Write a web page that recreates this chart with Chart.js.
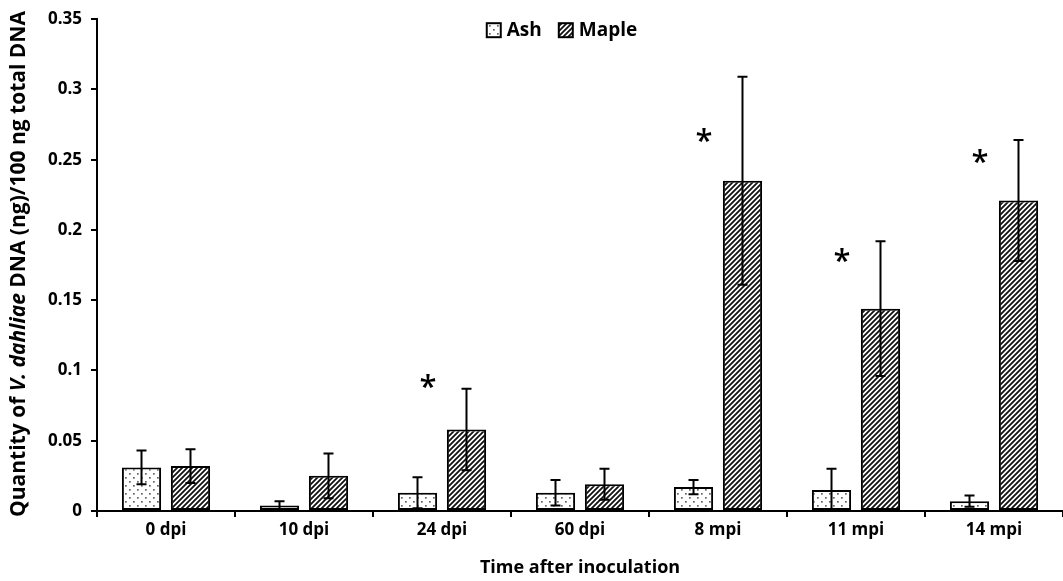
<!DOCTYPE html>
<html>
<head>
<meta charset="utf-8">
<script src="https://cdn.jsdelivr.net/npm/chart.js@4"></script>
<style>
  html, body { margin: 0; padding: 0; background: #fff; }
  #wrap { width: 1063px; height: 581px; }
</style>
</head>
<body>
<div id="wrap"><canvas id="chart"></canvas></div>
<script>
const categories = ['0 dpi', '10 dpi', '24 dpi', '60 dpi', '8 mpi', '11 mpi', '14 mpi']
const ashValues = [0.031, 0.004, 0.013, 0.013, 0.017, 0.015, 0.007]
const ashErrors = [0.012, 0.003, 0.011, 0.009, 0.005, 0.015, 0.004]
const mapleValues = [0.032, 0.025, 0.058, 0.019, 0.235, 0.144, 0.221]
const mapleErrors = [0.012, 0.016, 0.029, 0.011, 0.074, 0.048, 0.043]
// where the significance stars sit (y value), null = no star
const starLevels = [null, null, 0.091, null, 0.266, 0.181, 0.251]
const yTicks = [0, 0.05, 0.1, 0.15, 0.2, 0.25, 0.3, 0.35]

const FONT = '"Open Sans", "DejaVu Sans", sans-serif'

function dotPattern() {
    const c = document.createElement('canvas')
    c.width = 8; c.height = 8
    const g = c.getContext('2d')
    g.fillStyle = '#fff'
    g.fillRect(0, 0, 8, 8)
    g.fillStyle = '#666'
    g.fillRect(1, 1, 1.7, 1.7)
    g.fillRect(5, 5, 1.7, 1.7)
    return g.createPattern(c, 'repeat')
}

function hatchPattern() {
    const s = 5
    const c = document.createElement('canvas')
    c.width = s; c.height = s
    const g = c.getContext('2d')
    g.fillStyle = '#fff'
    g.fillRect(0, 0, s, s)
    g.strokeStyle = '#111'
    g.lineWidth = 1.8
    g.beginPath()
    g.moveTo(-1, s + 1); g.lineTo(s + 1, -1)
    g.moveTo(-1, 1); g.lineTo(1, -1)
    g.moveTo(s - 1, s + 1); g.lineTo(s + 1, s - 1)
    g.stroke()
    return g.createPattern(c, 'repeat')
}

const errorBars = {
    id: 'errorBars',
    afterDatasetsDraw(chart) {
        const ctx = chart.ctx
        const y = chart.scales.y
        const errs = [ashErrors, mapleErrors]
        ctx.save()
        ctx.strokeStyle = '#000'
        ctx.lineWidth = 2
        chart.data.datasets.forEach((ds, di) => {
            chart.getDatasetMeta(di).data.forEach((bar, i) => {
                const v = ds.data[i], e = errs[di][i]
                const top = y.getPixelForValue(v + e)
                const bot = y.getPixelForValue(Math.max(0, v - e))
                ctx.beginPath()
                ctx.moveTo(bar.x, top); ctx.lineTo(bar.x, bot)
                ctx.moveTo(bar.x - 5, top); ctx.lineTo(bar.x + 5, top)
                ctx.moveTo(bar.x - 5, bot); ctx.lineTo(bar.x + 5, bot)
                ctx.stroke()
            })
        })
        ctx.fillStyle = '#000'
        ctx.font = '600 31px ' + FONT
        ctx.textAlign = 'center'
        ctx.textBaseline = 'alphabetic'
        starLevels.forEach((lvl, i) => {
            if (lvl === null) return
            const x = chart.scales.x.getPixelForValue(i) - 14
            ctx.fillText('*', x, y.getPixelForValue(lvl) + 14)
        })
        ctx.restore()
    }
}

// legend sits inside the plot area, just under the top
const insideLegend = {
    id: 'insideLegend',
    afterDraw(chart) {
        const ctx = chart.ctx
        const area = chart.chartArea
        ctx.save()
        ctx.font = 'bold 19px ' + FONT
        ctx.textBaseline = 'middle'
        ctx.fillStyle = '#000'
        const box = 14, gapText = 6, gapItem = 17
        let width = 0
        chart.data.datasets.forEach((ds, i) => {
            width += box + gapText + ctx.measureText(ds.label).width
            if (i > 0) width += gapItem
        })
        let x = (area.left + area.right) / 2 - 18 - width / 2
        const yc = area.top + 11
        chart.data.datasets.forEach(ds => {
            ctx.fillStyle = ds.backgroundColor
            ctx.fillRect(x, yc - box / 2, box, box)
            ctx.strokeStyle = '#000'
            ctx.lineWidth = 2
            ctx.strokeRect(x, yc - box / 2, box, box)
            x += box + gapText
            ctx.fillStyle = '#000'
            ctx.fillText(ds.label, x, yc)
            x += ctx.measureText(ds.label).width + gapItem
        })
        ctx.restore()
    }
}

const yTitle = {
    id: 'yTitle',
    afterDraw(chart) {
        const ctx = chart.ctx
        const parts = [
            ['bold 21px ' + FONT, 'Quantity of '],
            ['italic bold 21px ' + FONT, 'V. dahliae'],
            ['bold 21px ' + FONT, ' DNA (ng)/100 ng total DNA']
        ]
        let total = 0
        parts.forEach(p => { ctx.font = p[0]; total += ctx.measureText(p[1]).width })
        ctx.save()
        ctx.translate(19, 264)
        ctx.rotate(-Math.PI / 2)
        ctx.fillStyle = '#000'
        ctx.textBaseline = 'middle'
        ctx.textAlign = 'left'
        let x = -total / 2
        parts.forEach(p => {
            ctx.font = p[0]
            ctx.fillText(p[1], x, 0)
            x += ctx.measureText(p[1]).width
        })
        ctx.restore()
    }
}

const ctx = document.getElementById('chart').getContext('2d')
const chart = new Chart(ctx, {
    type: 'bar',
    data: {
        labels: categories,
        datasets: [{
            label: 'Ash',
            data: ashValues,
            backgroundColor: dotPattern(),
            borderColor: '#000',
            borderWidth: 2,
            borderSkipped: false
        }, {
            label: 'Maple',
            data: mapleValues,
            backgroundColor: hatchPattern(),
            borderColor: '#000',
            borderWidth: 2,
            borderSkipped: false
        }]
    },
    options: {
        responsive: true,
        maintainAspectRatio: false,
        animation: false,
        categoryPercentage: 0.71,
        barPercentage: 0.8,
        layout: {padding: {top: 19, right: 0, left: 0, bottom: 0}},
        plugins: {
            legend: {display: false},
            tooltip: {enabled: false}
        },
        scales: {
            x: {
                afterFit(scale) { scale.height = 70 },
                border: {color: '#000', width: 2},
                grid: {display: true, drawOnChartArea: false, offset: true, tickLength: 6, color: '#000', lineWidth: 2},
                ticks: {color: '#000', padding: 3, font: {family: FONT, size: 17, weight: 'bold'}},
                title: {
                    display: true,
                    text: 'Time after inoculation',
                    color: '#000',
                    padding: {top: 0, bottom: 2},
                    font: {family: FONT, size: 18, weight: 'bold'}
                }
            },
            y: {
                min: 0,
                max: 0.35,
                afterFit(scale) { scale.width = 97 },
                afterBuildTicks(scale) { scale.ticks = yTicks.map(v => ({value: v})) },
                border: {color: '#000', width: 2},
                grid: {display: true, drawOnChartArea: false, tickLength: 6, color: '#000', lineWidth: 2},
                ticks: {
                    color: '#000',
                    padding: 9,
                    font: {family: FONT, size: 17, weight: 'bold'},
                    callback: v => String(Number(v.toFixed(2)))
                }
            }
        }
    },
    plugins: [errorBars, insideLegend, yTitle]
})
</script>
</body>
</html>
